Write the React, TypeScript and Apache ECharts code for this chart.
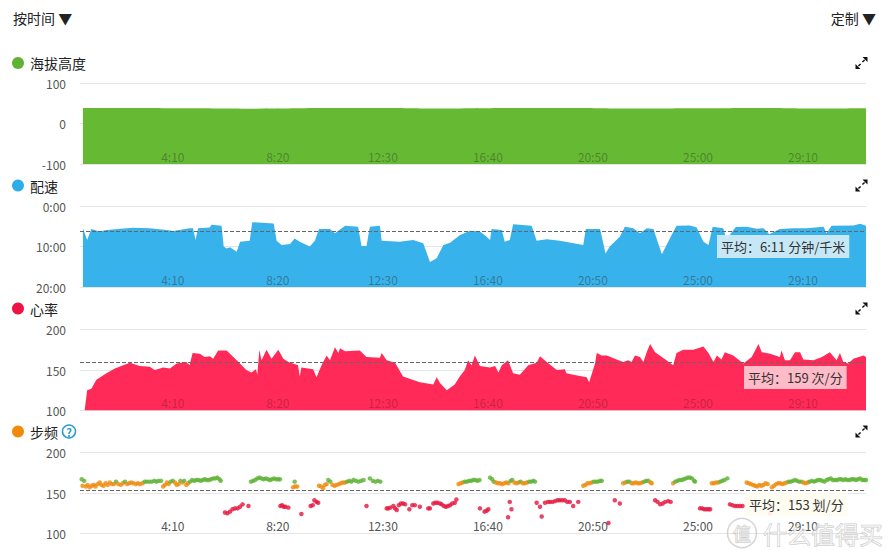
import React, { useEffect, useRef } from 'react';
import * as echarts from 'echarts';

// ---------- DATA ----------
// x values are elapsed seconds
const xTickValues = [250, 500, 750, 1000, 1250, 1500, 1750];

const altitude: [number, number][] = [
  [36, 38], [150, 38.5], [300, 37.5], [450, 36.5], [600, 38], [750, 38.5], [900, 37],
  [1050, 38], [1200, 38.5], [1350, 37], [1500, 37.5], [1650, 38.5], [1800, 37], [1900, 37.5],
];

// pace in minutes per km
const pace: [number, number][] = [
  [36, 5.5], [46, 8.4], [56, 5.7], [76, 6.3], [92, 5.9], [155, 5.4], [195, 5.5], [235, 5.9],
  [251, 6.2], [290, 5.5], [298, 5.5], [304, 8.4], [310, 5.5], [338, 5.3], [342, 4.6], [366, 4.9],
  [371, 10.0], [378, 10.5], [386, 10.2], [402, 11.3], [410, 8.8], [433, 8.6], [439, 4.0], [490, 4.3],
  [497, 8.6], [509, 9.6], [529, 9.4], [540, 8.0], [552, 8.8], [576, 10.0], [588, 8.6], [598, 5.7],
  [624, 5.7], [636, 6.7], [660, 4.9], [691, 5.1], [699, 9.9], [711, 9.9], [719, 5.1], [743, 4.9],
  [747, 8.6], [790, 8.8], [822, 8.4], [846, 9.2], [862, 13.8], [878, 12.9], [894, 9.6], [910, 9.05],
  [933, 7.2], [957, 6.1], [981, 6.3], [997, 7.6], [1005, 8.4], [1009, 5.7], [1033, 5.9], [1040, 8.8],
  [1052, 8.4], [1060, 4.5], [1104, 4.9], [1116, 8.6], [1140, 8.2], [1171, 8.6], [1227, 9.6], [1233, 5.7],
  [1267, 5.7], [1280, 11.7], [1290, 10.0], [1314, 7.6], [1326, 5.1], [1346, 5.5], [1362, 6.7], [1378, 5.5],
  [1394, 5.7], [1414, 11.9], [1437, 7.2], [1449, 4.9], [1481, 4.8], [1497, 5.3], [1513, 8.8], [1525, 9.6],
  [1535, 5.1], [1560, 5.5], [1568, 8.2], [1590, 5.2], [1616, 5.1], [1640, 5.6], [1656, 5.5], [1670, 7.0],
  [1679, 6.5], [1695, 5.7], [1727, 5.5], [1759, 5.5], [1799, 5.1], [1806, 6.7], [1818, 4.9], [1870, 4.8],
  [1886, 4.4], [1900, 4.9],
];

const heartRate: [number, number][] = [
  [40, 100], [46, 125], [56, 127], [68, 138], [92, 146], [112, 152], [132, 156], [148, 159],
  [171, 155], [195, 154], [207, 150], [227, 153], [243, 152], [259, 158], [282, 160], [290, 156],
  [297, 171], [314, 170], [326, 166], [338, 167], [346, 164], [358, 174], [378, 174], [402, 162],
  [425, 150], [437, 147], [448, 151], [451, 144], [456, 175], [461, 162], [473, 175], [485, 164],
  [501, 175], [513, 164], [525, 160], [548, 156], [552, 142], [556, 153], [584, 151], [592, 141],
  [604, 156], [616, 168], [624, 162], [636, 178], [644, 171], [648, 177], [660, 173], [695, 174],
  [711, 166], [743, 165], [747, 171], [759, 162], [779, 159], [798, 142], [838, 135], [870, 132],
  [878, 141], [886, 134], [902, 125], [921, 132], [933, 142], [945, 150], [953, 162], [961, 156],
  [969, 168], [981, 155], [1005, 153], [1017, 155], [1025, 147], [1033, 156], [1048, 162], [1060, 146],
  [1076, 144], [1096, 156], [1116, 159], [1124, 167], [1140, 160], [1164, 150], [1183, 151], [1187, 146],
  [1203, 144], [1235, 141], [1241, 135], [1255, 158], [1259, 171], [1271, 168], [1283, 168], [1302, 164],
  [1322, 160], [1334, 162], [1342, 160], [1350, 168], [1362, 166], [1370, 160], [1378, 172], [1386, 182],
  [1398, 172], [1425, 162], [1441, 156], [1449, 171], [1465, 175], [1489, 175], [1513, 179], [1525, 171],
  [1537, 160], [1545, 168], [1556, 163], [1564, 172], [1584, 168], [1608, 158], [1628, 166], [1644, 182],
  [1652, 172], [1672, 170], [1695, 166], [1699, 174], [1707, 162], [1719, 162], [1731, 172], [1743, 172],
  [1751, 163], [1775, 162], [1795, 166], [1814, 172], [1830, 162], [1838, 171], [1846, 160], [1858, 158],
  [1870, 164], [1894, 168], [1900, 166],
];

// steps per minute
const cadence: [number, number][] = [
  [33, 167], [35, 159], [39, 165], [43, 158], [47, 160], [52, 157], [57, 159], [62, 160], [66, 158],
  [71, 161], [76, 163], [80, 160], [85, 159], [90, 162], [95, 160], [100, 163], [105, 161], [110, 161],
  [115, 164], [120, 161], [126, 160], [131, 162], [136, 164], [141, 161], [146, 162], [151, 163],
  [156, 162], [162, 161], [167, 162], [172, 161], [178, 162], [183, 164], [188, 164], [194, 164],
  [200, 164], [206, 165], [211, 164], [216, 165], [222, 165], [227, 158], [231, 160], [236, 163],
  [240, 161], [245, 164], [250, 165], [255, 163], [259, 160], [264, 161], [268, 165], [273, 163],
  [277, 165], [282, 160], [286, 162], [291, 164], [296, 166], [301, 165], [306, 166], [311, 166],
  [316, 165], [321, 166], [326, 167], [331, 166], [336, 166], [341, 167], [346, 168], [351, 168],
  [356, 169], [361, 167], [364, 165],
  [374, 126], [380, 125], [386, 127], [392, 130], [398, 131], [404, 131], [410, 133], [416, 136], [430, 134],
  [436, 164], [441, 165], [446, 166], [451, 168], [456, 169], [461, 168], [466, 167], [471, 168],
  [476, 167], [481, 166], [486, 167], [491, 168], [496, 167], [501, 167], [505, 167],
  [506, 134], [510, 135], [514, 133], [518, 133], [525, 132], [556, 124], [578, 134], [583, 135],
  [587, 141], [592, 139], [596, 138],
  [536, 157], [541, 158], [546, 158], [540, 164],
  [598, 159], [603, 158], [608, 156], [612, 160], [616, 161],
  [620, 166], [625, 164], [630, 160], [635, 159], [640, 160], [645, 161], [650, 162], [655, 163],
  [660, 163], [665, 164], [670, 165], [675, 164], [680, 166], [686, 165], [692, 164], [698, 165],
  [704, 166], [719, 168], [726, 165], [732, 164], [738, 165], [744, 164],
  [711, 134], [759, 131], [763, 131], [768, 132], [775, 134], [779, 131], [783, 129], [788, 135],
  [793, 137], [798, 137], [803, 136], [813, 130], [820, 135], [826, 135], [838, 133], [858, 131],
  [862, 131], [870, 137], [875, 138], [880, 138], [886, 137], [890, 136], [895, 134], [900, 133],
  [905, 134], [910, 135], [915, 137], [921, 138], [925, 142],
  [930, 161], [935, 162], [940, 163], [945, 164], [950, 164], [955, 165], [960, 165], [965, 166],
  [970, 166], [975, 165], [980, 166],
  [981, 131], [992, 127], [997, 128], [1001, 130], [1048, 120], [1052, 139], [1056, 130],
  [1005, 169], [1010, 167], [1014, 164], [1019, 163], [1024, 162], [1029, 162], [1034, 161],
  [1039, 162], [1044, 163], [1049, 162], [1054, 165], [1058, 166], [1063, 163], [1068, 162],
  [1073, 163], [1078, 164], [1083, 162], [1088, 162], [1093, 163], [1098, 164], [1103, 164],
  [1108, 165], [1112, 164],
  [1116, 138], [1124, 133], [1128, 121], [1136, 138], [1143, 139], [1148, 139], [1154, 139],
  [1160, 140], [1166, 141], [1171, 141], [1177, 141], [1183, 141], [1189, 139], [1195, 139],
  [1203, 134], [1215, 139],
  [1227, 159], [1232, 160], [1237, 162], [1242, 162], [1247, 163], [1252, 164], [1257, 164],
  [1262, 164], [1267, 165], [1271, 165],
  [1287, 113], [1302, 141], [1314, 137],
  [1322, 162], [1327, 163], [1332, 164], [1337, 164], [1342, 162], [1347, 162], [1352, 163],
  [1357, 162], [1362, 162], [1367, 163], [1372, 164], [1377, 165], [1382, 165], [1387, 163], [1390, 162],
  [1398, 141], [1404, 139], [1410, 136], [1416, 137], [1422, 139], [1429, 140], [1435, 139],
  [1441, 162], [1446, 164], [1451, 165], [1456, 166], [1461, 166], [1466, 167], [1471, 168],
  [1476, 169], [1481, 169], [1486, 168], [1491, 165], [1493, 164],
  [1505, 131], [1510, 131], [1515, 130], [1520, 130], [1525, 130], [1529, 130],
  [1533, 162], [1538, 162], [1543, 163], [1548, 163], [1553, 164], [1558, 165], [1563, 166], [1570, 168],
  [1576, 136], [1582, 135], [1588, 134], [1594, 134], [1600, 134], [1606, 134], [1671, 125],
  [1616, 163], [1621, 162], [1626, 161], [1631, 160], [1636, 159], [1641, 158], [1646, 160],
  [1651, 159], [1656, 160], [1661, 162], [1666, 161], [1676, 157], [1681, 159], [1686, 161],
  [1691, 162], [1696, 162], [1701, 161], [1706, 162], [1711, 163], [1716, 164], [1721, 164],
  [1726, 165], [1731, 166], [1736, 165], [1741, 164], [1746, 164], [1751, 163], [1756, 162],
  [1761, 163], [1766, 164], [1771, 165], [1776, 164], [1781, 165], [1786, 166], [1791, 166],
  [1796, 165], [1801, 164], [1806, 166], [1811, 167], [1816, 168], [1821, 166], [1826, 166],
  [1831, 166], [1836, 167], [1841, 167], [1846, 166], [1851, 167], [1856, 166], [1861, 166],
  [1866, 167], [1871, 167], [1876, 166], [1881, 167], [1886, 168], [1891, 166], [1896, 166], [1900, 166],
];

const paceAvg = 6 + 11 / 60;
const heartRateAvg = 159;
const cadenceAvg = 153;

const panelTitles = ['海拔高度', '配速', '心率', '步频'];
const avgLabels = ['平均：6:11 分钟/千米', '平均：159 次/分', '平均：153 划/分'];

// ---------- STYLE ----------
const FONT = '"Noto Sans CJK SC", "Noto Sans", sans-serif';
const dotColors = ['#5fb233', '#2eaee8', '#ee1245', '#f08a0c'];
const ALT_FILL = '#66b933';
const PACE_FILL = '#38b2ea';
const HR_FILL = '#ff2a57';
const CAD_GREEN = '#5cb234';
const CAD_ORANGE = '#f0890c';
const CAD_RED = '#e5163f';

const gridTops = [83, 206, 329.5, 452.5];
const titleYs = [63, 185.5, 308.5, 431.5];
const xLabelColors = ['rgba(40,40,40,0.38)', 'rgba(40,40,40,0.42)', 'rgba(60,20,30,0.3)', '#555'];

const iconPath =
  'M7 0 L12 0 L12 5 Z M0 12 L0 7 L5 12 Z M8.6 2.4 L9.6 3.4 L7.4 5.6 L6.4 4.6 Z M2.4 8.6 L3.4 9.6 L5.6 7.4 L4.6 6.4 Z';
let iconRegistered = false;

const fmtTime = (v: number) => `${Math.floor(v / 60)}:${String(Math.round(v % 60)).padStart(2, '0')}`;

export default function App() {
  const ref = useRef<HTMLDivElement>(null);

  useEffect(() => {
    if (!ref.current) return;
    if (!iconRegistered) {
      echarts.graphic.registerShape('expandIcon', echarts.graphic.extendPath(iconPath, {}) as any);
      iconRegistered = true;
    }
    const chart = echarts.init(ref.current, undefined, { renderer: 'svg' });

    const grids = gridTops.map((t) => ({ left: 80, width: 786, top: t, height: 81 }));

    const xAxes = grids.map((_, i) => ({
      type: 'value',
      gridIndex: i,
      min: 29,
      max: 1900,
      z: 10,
      axisLine: { show: false },
      axisTick: { show: false },
      splitLine: { show: false },
      axisLabel: {
        inside: true,
        customValues: xTickValues,
        formatter: (v: number) => fmtTime(v),
        color: xLabelColors[i],
        fontSize: 12,
        fontFamily: FONT,
        margin: 2,
      },
    }));

    const yBase = {
      axisLine: { show: false },
      axisTick: { show: false },
      splitLine: { show: true, lineStyle: { color: '#e5e5e5', width: 1 } },
      axisLabel: { color: '#555', fontSize: 12, fontFamily: FONT, margin: 14 },
    };
    const yAxes = [
      { ...yBase, type: 'value', gridIndex: 0, min: -100, max: 100, interval: 100 },
      {
        ...yBase,
        type: 'value',
        gridIndex: 1,
        min: 0,
        max: 20,
        interval: 10,
        inverse: true,
        axisLabel: { ...yBase.axisLabel, formatter: (v: number) => `${v}:00` },
      },
      { ...yBase, type: 'value', gridIndex: 2, min: 100, max: 200, interval: 50 },
      { ...yBase, type: 'value', gridIndex: 3, min: 100, max: 200, interval: 50 },
    ];

    const avgLine = (v: number) => ({
      silent: true,
      symbol: 'none',
      label: { show: false },
      lineStyle: { type: 'dashed', color: '#666', width: 1 },
      data: [{ yAxis: v }],
    });

    const cadColor = (v: number) => (v >= 163.5 ? CAD_GREEN : v >= cadenceAvg ? CAD_ORANGE : CAD_RED);

    const series: any[] = [
      {
        type: 'line',
        xAxisIndex: 0,
        yAxisIndex: 0,
        data: altitude,
        smooth: true,
        showSymbol: false,
        lineStyle: { width: 0 },
        areaStyle: { color: ALT_FILL, opacity: 1, origin: 'start' },
      },
      {
        type: 'line',
        xAxisIndex: 1,
        yAxisIndex: 1,
        data: pace,
        showSymbol: false,
        lineStyle: { width: 0 },
        areaStyle: { color: PACE_FILL, opacity: 1, origin: 'end' },
        markLine: avgLine(paceAvg),
      },
      {
        type: 'line',
        xAxisIndex: 2,
        yAxisIndex: 2,
        data: heartRate,
        showSymbol: false,
        lineStyle: { width: 0 },
        areaStyle: { color: HR_FILL, opacity: 1, origin: 'start' },
        markLine: avgLine(heartRateAvg),
      },
      {
        type: 'scatter',
        xAxisIndex: 3,
        yAxisIndex: 3,
        data: cadence,
        symbolSize: 4.5,
        itemStyle: { color: (p: any) => cadColor(p.value[1]) },
        markLine: avgLine(cadenceAvg),
      },
    ];

    const graphic: any[] = [
      {
        type: 'text',
        x: 13,
        y: 18,
        style: { text: '按时间 ▼', fontSize: 14, fill: '#222', fontFamily: FONT, verticalAlign: 'middle' },
      },
      {
        type: 'text',
        x: 876,
        y: 18,
        style: { text: '定制 ▼', fontSize: 14, fill: '#222', fontFamily: FONT, align: 'right', verticalAlign: 'middle' },
      },
    ];
    titleYs.forEach((ty, i) => {
      graphic.push({ type: 'circle', shape: { cx: 18, cy: ty, r: 6 }, style: { fill: dotColors[i] } });
      graphic.push({
        type: 'text',
        x: 30,
        y: ty,
        style: { text: panelTitles[i], fontSize: 14, fill: '#222', fontFamily: FONT, verticalAlign: 'middle' },
      });
      graphic.push({ type: 'expandIcon', x: 855.5, y: ty - 6, style: { fill: '#111' } });
    });
    graphic.push({
      type: 'circle',
      shape: { cx: 69, cy: titleYs[3], r: 6.5 },
      style: { fill: '#fff', stroke: '#2a9ad0', lineWidth: 1.5 },
    });
    graphic.push({
      type: 'text',
      x: 69,
      y: titleYs[3] + 0.5,
      style: {
        text: '?',
        fontSize: 11,
        fontWeight: 'bold',
        fill: '#2a9ad0',
        fontFamily: FONT,
        align: 'center',
        verticalAlign: 'middle',
      },
    });

    const boxes = [
      { x: 717, y: 235, bg: 'rgba(205,234,247,0.95)' },
      { x: 744, y: 366, bg: 'rgba(255,192,202,0.97)' },
      { x: 745, y: 493, bg: 'rgba(255,252,240,0.92)' },
    ];
    boxes.forEach((b, i) => {
      graphic.push({
        type: 'text',
        x: b.x,
        y: b.y,
        z: 100,
        style: {
          text: avgLabels[i],
          fontSize: 13,
          fill: '#333',
          fontFamily: FONT,
          backgroundColor: b.bg,
          padding: [5, 4, 5, 4],
        },
      });
    });

    // site watermark
    graphic.push({
      type: 'circle',
      z: 101,
      shape: { cx: 742, cy: 533, r: 14.5 },
      style: { fill: 'none', stroke: 'rgba(170,170,170,0.5)', lineWidth: 1.5 },
    });
    graphic.push({
      type: 'text',
      z: 101,
      x: 742,
      y: 533,
      style: {
        text: '值',
        fontSize: 18,
        fill: 'rgba(255,255,255,0.5)',
        stroke: 'rgba(160,160,160,0.55)',
        lineWidth: 1,
        fontFamily: FONT,
        align: 'center',
        verticalAlign: 'middle',
      },
    });
    graphic.push({
      type: 'text',
      z: 101,
      x: 763,
      y: 533,
      style: {
        text: '什么值得买',
        fontSize: 24,
        fill: 'rgba(255,255,255,0.5)',
        stroke: 'rgba(160,160,160,0.55)',
        lineWidth: 1,
        fontFamily: FONT,
        verticalAlign: 'middle',
      },
    });

    chart.setOption({
      animation: false,
      backgroundColor: '#fff',
      textStyle: { fontFamily: FONT },
      grid: grids,
      xAxis: xAxes,
      yAxis: yAxes,
      series,
      graphic,
    });

    return () => chart.dispose();
  }, []);

  return (
    <div
      ref={ref}
      style={{ position: 'fixed', left: 0, top: 0, width: 894, height: 559, background: '#fff' }}
    />
  );
}
